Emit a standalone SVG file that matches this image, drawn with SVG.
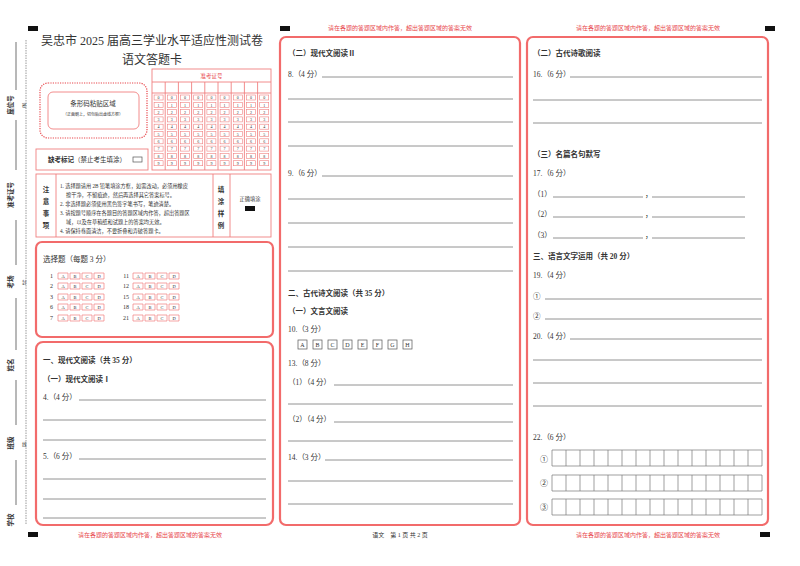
<svg xmlns="http://www.w3.org/2000/svg" width="800" height="566" viewBox="0 0 800 566">
<style>
text{font-family:"Liberation Serif","Noto Sans CJK SC",serif;fill:#333}
.t{font-size:7.5px}
.b{font-weight:bold}
.r{fill:#e8474c}
.box{fill:none;stroke:#f26b6b;stroke-width:2.2}
.thin{fill:none;stroke:#f08080;stroke-width:0.9}
.ln{stroke:#777;stroke-width:0.8}
.bb{fill:none;stroke:#f08080;stroke-width:0.7}
.gb{fill:none;stroke:#555;stroke-width:0.7}
.cell{fill:none;stroke:#777;stroke-width:0.7}
.mk{fill:#111}
</style>
<rect width="800" height="566" fill="#fff"/>
<g id="marks">
<rect class="mk" x="28" y="26" width="10" height="5"/>
<rect class="mk" x="280" y="26" width="10" height="5"/>
<rect class="mk" x="765" y="26" width="10" height="5"/>
<rect class="mk" x="28" y="532" width="10" height="5"/>
<rect class="mk" x="760" y="532" width="10" height="5"/>
</g>
<g id="strip">
<line x1="26" y1="40" x2="26" y2="525" stroke="#999" stroke-width="1" stroke-dasharray="1.5,1"/>
<g font-size="6.5" class="b">
<text transform="translate(13,105) rotate(-90)" text-anchor="middle">座位号</text>
<text transform="translate(13,195) rotate(-90)" text-anchor="middle">准考证号</text>
<text transform="translate(13,282) rotate(-90)" text-anchor="middle">考场</text>
<text transform="translate(13,365) rotate(-90)" text-anchor="middle">姓名</text>
<text transform="translate(13,443) rotate(-90)" text-anchor="middle">班级</text>
<text transform="translate(13,520) rotate(-90)" text-anchor="middle">学校</text>
</g>
<g font-size="4.5"><text x="22" y="107">密</text><text x="22" y="284">封</text><text x="22" y="446">线</text></g>
<g stroke="#333" stroke-width="0.7" fill="none">
<path d="M16,42 V90 M16,120 V170 M16,220 V265 M16,298 V350 M16,380 V425 M16,460 V505"/>
</g>
</g>
<g id="header">
<text x="152" y="45" text-anchor="middle" font-size="12">吴忠市 2025 届高三学业水平适应性测试卷</text>
<text x="152" y="64" text-anchor="middle" font-size="12">语文答题卡</text>
</g>
<g id="barcode">
<rect x="40" y="83" width="107" height="55" rx="8" fill="none" stroke="#e8474c" stroke-width="1.2" stroke-dasharray="1.2,1.2"/>
<rect x="48" y="92" width="91" height="37" rx="5" class="thin"/>
<text x="93" y="106" text-anchor="middle" font-size="6.5">条形码粘贴区域</text>
<text x="93" y="116" text-anchor="middle" font-size="4">（正面朝上，切勿贴出虚线方框）</text>
</g>
<g id="absent">
<rect x="36" y="149" width="112" height="21" class="thin"/>
<text x="48" y="162" font-size="6.5"><tspan class="b">缺考标记</tspan>（禁止考生填涂）</text>
<rect x="133" y="157" width="9" height="5" fill="none" stroke="#555" stroke-width="0.7"/>
</g>
<g id="examno">
<rect x="152" y="69" width="119" height="101" class="thin"/>
<line x1="152" y1="82" x2="271" y2="82" class="thin"/>
<line x1="152" y1="93" x2="271" y2="93" class="thin"/>
<text x="211.5" y="78" text-anchor="middle" font-size="5.5" class="r">准考证号</text>
<g class="thin">
<line x1="165.2" y1="82" x2="165.2" y2="170"/><line x1="178.4" y1="82" x2="178.4" y2="170"/><line x1="191.6" y1="82" x2="191.6" y2="170"/><line x1="204.8" y1="82" x2="204.8" y2="170"/><line x1="218" y1="82" x2="218" y2="170"/><line x1="231.2" y1="82" x2="231.2" y2="170"/><line x1="244.4" y1="82" x2="244.4" y2="170"/><line x1="257.6" y1="82" x2="257.6" y2="170"/>
</g>
</g>
<g id="notice">
<rect x="36" y="174" width="235" height="63" class="thin"/>
<line x1="56" y1="174" x2="56" y2="237" class="thin"/>
<line x1="213" y1="174" x2="213" y2="237" class="thin"/>
<line x1="230" y1="174" x2="230" y2="237" class="thin"/>
<g font-size="6.5" class="b" text-anchor="middle"><text x="46" y="192">注</text><text x="46" y="204">意</text><text x="46" y="216">事</text><text x="46" y="228">项</text>
<text x="221" y="192">填</text><text x="221" y="204">涂</text><text x="221" y="216">样</text><text x="221" y="228">例</text></g>
<g font-size="5.2">
<text x="60" y="188">1. 选择题请用 2B 铅笔填涂方框，如需改动，必须用橡皮</text>
<text x="66" y="197">擦干净，不留痕迹，然后再选择其它答案标号。</text>
<text x="60" y="206">2. 非选择题必须使用黑色签字笔书写，笔迹清楚。</text>
<text x="60" y="215">3. 请按题号顺序在各题目的答题区域内作答，超出答题区</text>
<text x="66" y="224">域，以及在草稿纸和试题上的答案均无效。</text>
<text x="60" y="233">4. 请保持卷面清洁，不要折叠和弄破答题卡。</text>
<text x="250" y="201" text-anchor="middle">正确填涂</text>
</g>
<rect x="245" y="206" width="10" height="5" fill="#111"/>
</g>
<g id="choice">
<rect x="36" y="242" width="237" height="95" rx="6" class="box"/>
<text x="43" y="262" font-size="7.5">选择题（每题 3 分）</text>
</g>
<g id="sec1">
<rect x="36" y="342" width="237" height="183" rx="7" class="box"/>
<text x="43" y="363" class="t b">一、现代文阅读（共 35 分）</text>
<text x="43" y="382" class="t b">（一）现代文阅读Ⅰ</text>
<text x="43" y="400" class="t">4.（4 分）</text>
<text x="43" y="459" class="t">5.（6 分）</text>
<g class="ln"><line x1="79" y1="400" x2="266" y2="400"/><line x1="43" y1="420" x2="266" y2="420"/><line x1="43" y1="440" x2="266" y2="440"/><line x1="79" y1="459" x2="266" y2="459"/><line x1="43" y1="479" x2="266" y2="479"/><line x1="43" y1="499" x2="266" y2="499"/><line x1="43" y1="518" x2="266" y2="518"/></g>
</g>
<g id="mid">
<rect x="280" y="37" width="240" height="488" rx="6" class="box"/>
<text x="288" y="56" class="t b">（二）现代文阅读Ⅱ</text>
<text x="288" y="77" class="t">8.（4 分）</text>
<text x="288" y="176" class="t">9.（6 分）</text>
<text x="288" y="296" class="t b">二、古代诗文阅读（共 35 分）</text>
<text x="288" y="314" class="t b">（一）文言文阅读</text>
<text x="288" y="332" class="t">10.（3 分）</text>
<text x="288" y="366" class="t">13.（8 分）</text>
<text x="288" y="385" class="t">（1）（4 分）</text>
<text x="288" y="422" class="t">（2）（4 分）</text>
<text x="288" y="460" class="t">14.（3 分）</text>
<g class="ln">
<line x1="322" y1="77" x2="513" y2="77"/><line x1="288" y1="99" x2="513" y2="99"/><line x1="288" y1="122" x2="513" y2="122"/><line x1="288" y1="146" x2="513" y2="146"/>
<line x1="322" y1="176" x2="513" y2="176"/><line x1="288" y1="199" x2="513" y2="199"/><line x1="288" y1="223" x2="513" y2="223"/><line x1="288" y1="247" x2="513" y2="247"/><line x1="288" y1="271" x2="513" y2="271"/>
<line x1="334" y1="385" x2="513" y2="385"/><line x1="288" y1="404" x2="513" y2="404"/>
<line x1="334" y1="422" x2="513" y2="422"/><line x1="288" y1="441" x2="513" y2="441"/>
<line x1="325" y1="460" x2="513" y2="460"/><line x1="288" y1="481" x2="513" y2="481"/><line x1="288" y1="504" x2="513" y2="504"/>
</g>
<g font-size="6" text-anchor="middle">
<rect x="298" y="340" width="9" height="9" class="gb"/><text x="302.5" y="347">A</text>
<rect x="313" y="340" width="9" height="9" class="gb"/><text x="317.5" y="347">B</text>
<rect x="328" y="340" width="9" height="9" class="gb"/><text x="332.5" y="347">C</text>
<rect x="343" y="340" width="9" height="9" class="gb"/><text x="347.5" y="347">D</text>
<rect x="358" y="340" width="9" height="9" class="gb"/><text x="362.5" y="347">E</text>
<rect x="373" y="340" width="9" height="9" class="gb"/><text x="377.5" y="347">F</text>
<rect x="388" y="340" width="9" height="9" class="gb"/><text x="392.5" y="347">G</text>
<rect x="403" y="340" width="9" height="9" class="gb"/><text x="407.5" y="347">H</text>
</g>
</g>
<g id="right">
<rect x="527" y="37" width="241" height="488" rx="6" class="box"/>
<text x="533" y="56" class="t b">（二）古代诗歌阅读</text>
<text x="533" y="77" class="t">16.（6 分）</text>
<text x="533" y="157" class="t b">（三）名篇名句默写</text>
<text x="533" y="176" class="t">17.（6 分）</text>
<text x="533" y="197" class="t">（1）</text><text x="645" y="197" class="t">，</text>
<text x="533" y="217" class="t">（2）</text><text x="645" y="217" class="t">，</text>
<text x="533" y="238" class="t">（3）</text><text x="645" y="238" class="t">，</text>
<text x="533" y="259" class="t b">三、语言文字运用（共 20 分）</text>
<text x="533" y="278" class="t">19.（4 分）</text>
<text x="533" y="299" class="t">①</text>
<text x="533" y="319" class="t">②</text>
<text x="533" y="339" class="t">20.（4 分）</text>
<text x="533" y="440" class="t">22.（6 分）</text>
<g class="ln">
<line x1="570" y1="77" x2="762" y2="77"/><line x1="533" y1="100" x2="762" y2="100"/><line x1="533" y1="123" x2="762" y2="123"/>
<line x1="553" y1="197" x2="643" y2="197"/><line x1="652" y1="197" x2="745" y2="197"/>
<line x1="553" y1="217" x2="643" y2="217"/><line x1="652" y1="217" x2="745" y2="217"/>
<line x1="553" y1="238" x2="643" y2="238"/><line x1="652" y1="238" x2="745" y2="238"/>
<line x1="545" y1="299" x2="762" y2="299"/><line x1="545" y1="319" x2="762" y2="319"/>
<line x1="570" y1="339" x2="762" y2="339"/><line x1="533" y1="360" x2="762" y2="360"/><line x1="533" y1="383" x2="762" y2="383"/><line x1="533" y1="406" x2="762" y2="406"/>
</g>
<g font-size="8" fill="#555"><text x="540" y="462">①</text><text x="540" y="486">②</text><text x="540" y="510">③</text></g>
</g>
<g id="grid22" class="cell">
<path d="M552,450H762V466H552Z M552,475H762V491H552Z M552,499H762V515H552Z"/>
<path d="M566,450V466M580,450V466M594,450V466M608,450V466M622,450V466M636,450V466M650,450V466M664,450V466M678,450V466M692,450V466M706,450V466M720,450V466M734,450V466M748,450V466"/>
<path d="M566,475V491M580,475V491M594,475V491M608,475V491M622,475V491M636,475V491M650,475V491M664,475V491M678,475V491M692,475V491M706,475V491M720,475V491M734,475V491M748,475V491"/>
<path d="M566,499V515M580,499V515M594,499V515M608,499V515M622,499V515M636,499V515M650,499V515M664,499V515M678,499V515M692,499V515M706,499V515M720,499V515M734,499V515M748,499V515"/>
</g>
<g id="footers" font-size="6" text-anchor="middle">
<text x="400" y="30" class="r">请在各题的答题区域内作答，超出答题区域的答案无效</text>
<text x="648" y="30" class="r">请在各题的答题区域内作答，超出答题区域的答案无效</text>
<text x="150" y="537" class="r">请在各题的答题区域内作答，超出答题区域的答案无效</text>
<text x="648" y="537" class="r">请在各题的答题区域内作答，超出答题区域的答案无效</text>
<text x="400" y="537">语文　第 1 页 共 2 页</text>
</g>
<g id="choicebubbles" font-size="6">
<g text-anchor="end"><text x="53" y="278">1</text><text x="53" y="288">2</text><text x="53" y="299">3</text><text x="53" y="309">6</text><text x="53" y="320">7</text>
<text x="129" y="278">11</text><text x="129" y="288">12</text><text x="129" y="299">15</text><text x="129" y="309">18</text><text x="129" y="320">21</text></g>
<g class="bb">
<path d="M58,273h10v6h-10z M70,273h10v6h-10z M82,273h10v6h-10z M94,273h10v6h-10z M133,273h10v6h-10z M145,273h10v6h-10z M157,273h10v6h-10z M169,273h10v6h-10z"/>
<path d="M58,283h10v6h-10z M70,283h10v6h-10z M82,283h10v6h-10z M94,283h10v6h-10z M133,283h10v6h-10z M145,283h10v6h-10z M157,283h10v6h-10z M169,283h10v6h-10z"/>
<path d="M58,294h10v6h-10z M70,294h10v6h-10z M82,294h10v6h-10z M94,294h10v6h-10z M133,294h10v6h-10z M145,294h10v6h-10z M157,294h10v6h-10z M169,294h10v6h-10z"/>
<path d="M58,304h10v6h-10z M70,304h10v6h-10z M82,304h10v6h-10z M94,304h10v6h-10z M133,304h10v6h-10z M145,304h10v6h-10z M157,304h10v6h-10z M169,304h10v6h-10z"/>
<path d="M58,315h10v6h-10z M70,315h10v6h-10z M82,315h10v6h-10z M94,315h10v6h-10z M133,315h10v6h-10z M145,315h10v6h-10z M157,315h10v6h-10z M169,315h10v6h-10z"/>
</g>
<g font-size="4.5" class="r" text-anchor="middle">
<text x="63" y="278">A</text><text x="75" y="278">B</text><text x="87" y="278">C</text><text x="99" y="278">D</text><text x="138" y="278">A</text><text x="150" y="278">B</text><text x="162" y="278">C</text><text x="174" y="278">D</text>
<text x="63" y="288">A</text><text x="75" y="288">B</text><text x="87" y="288">C</text><text x="99" y="288">D</text><text x="138" y="288">A</text><text x="150" y="288">B</text><text x="162" y="288">C</text><text x="174" y="288">D</text>
<text x="63" y="299">A</text><text x="75" y="299">B</text><text x="87" y="299">C</text><text x="99" y="299">D</text><text x="138" y="299">A</text><text x="150" y="299">B</text><text x="162" y="299">C</text><text x="174" y="299">D</text>
<text x="63" y="309">A</text><text x="75" y="309">B</text><text x="87" y="309">C</text><text x="99" y="309">D</text><text x="138" y="309">A</text><text x="150" y="309">B</text><text x="162" y="309">C</text><text x="174" y="309">D</text>
<text x="63" y="320">A</text><text x="75" y="320">B</text><text x="87" y="320">C</text><text x="99" y="320">D</text><text x="138" y="320">A</text><text x="150" y="320">B</text><text x="162" y="320">C</text><text x="174" y="320">D</text>
</g>
</g>
<g id="idbubbles">
<defs>
<g id="col">
<g fill="none" stroke="#f08080" stroke-width="0.6">
<rect x="0" y="0" width="9" height="5"/><rect x="0" y="7.3" width="9" height="5"/><rect x="0" y="14.6" width="9" height="5"/><rect x="0" y="21.9" width="9" height="5"/><rect x="0" y="29.2" width="9" height="5"/><rect x="0" y="36.5" width="9" height="5"/><rect x="0" y="43.8" width="9" height="5"/><rect x="0" y="51.1" width="9" height="5"/><rect x="0" y="58.4" width="9" height="5"/><rect x="0" y="65.7" width="9" height="5"/>
</g>
<g font-size="4" fill="#e8474c" text-anchor="middle" style="font-family:'Liberation Serif',serif">
<text x="4.5" y="4.2">0</text><text x="4.5" y="11.5">1</text><text x="4.5" y="18.8">2</text><text x="4.5" y="26.1">3</text><text x="4.5" y="33.4">4</text><text x="4.5" y="40.7">5</text><text x="4.5" y="48">6</text><text x="4.5" y="55.3">7</text><text x="4.5" y="62.6">8</text><text x="4.5" y="69.9">9</text>
</g>
</g>
</defs>
<use href="#col" x="154.1" y="95"/><use href="#col" x="167.3" y="95"/><use href="#col" x="180.5" y="95"/><use href="#col" x="193.7" y="95"/><use href="#col" x="206.9" y="95"/><use href="#col" x="220.1" y="95"/><use href="#col" x="233.3" y="95"/><use href="#col" x="246.5" y="95"/><use href="#col" x="259.7" y="95"/>
</g>
</svg>
